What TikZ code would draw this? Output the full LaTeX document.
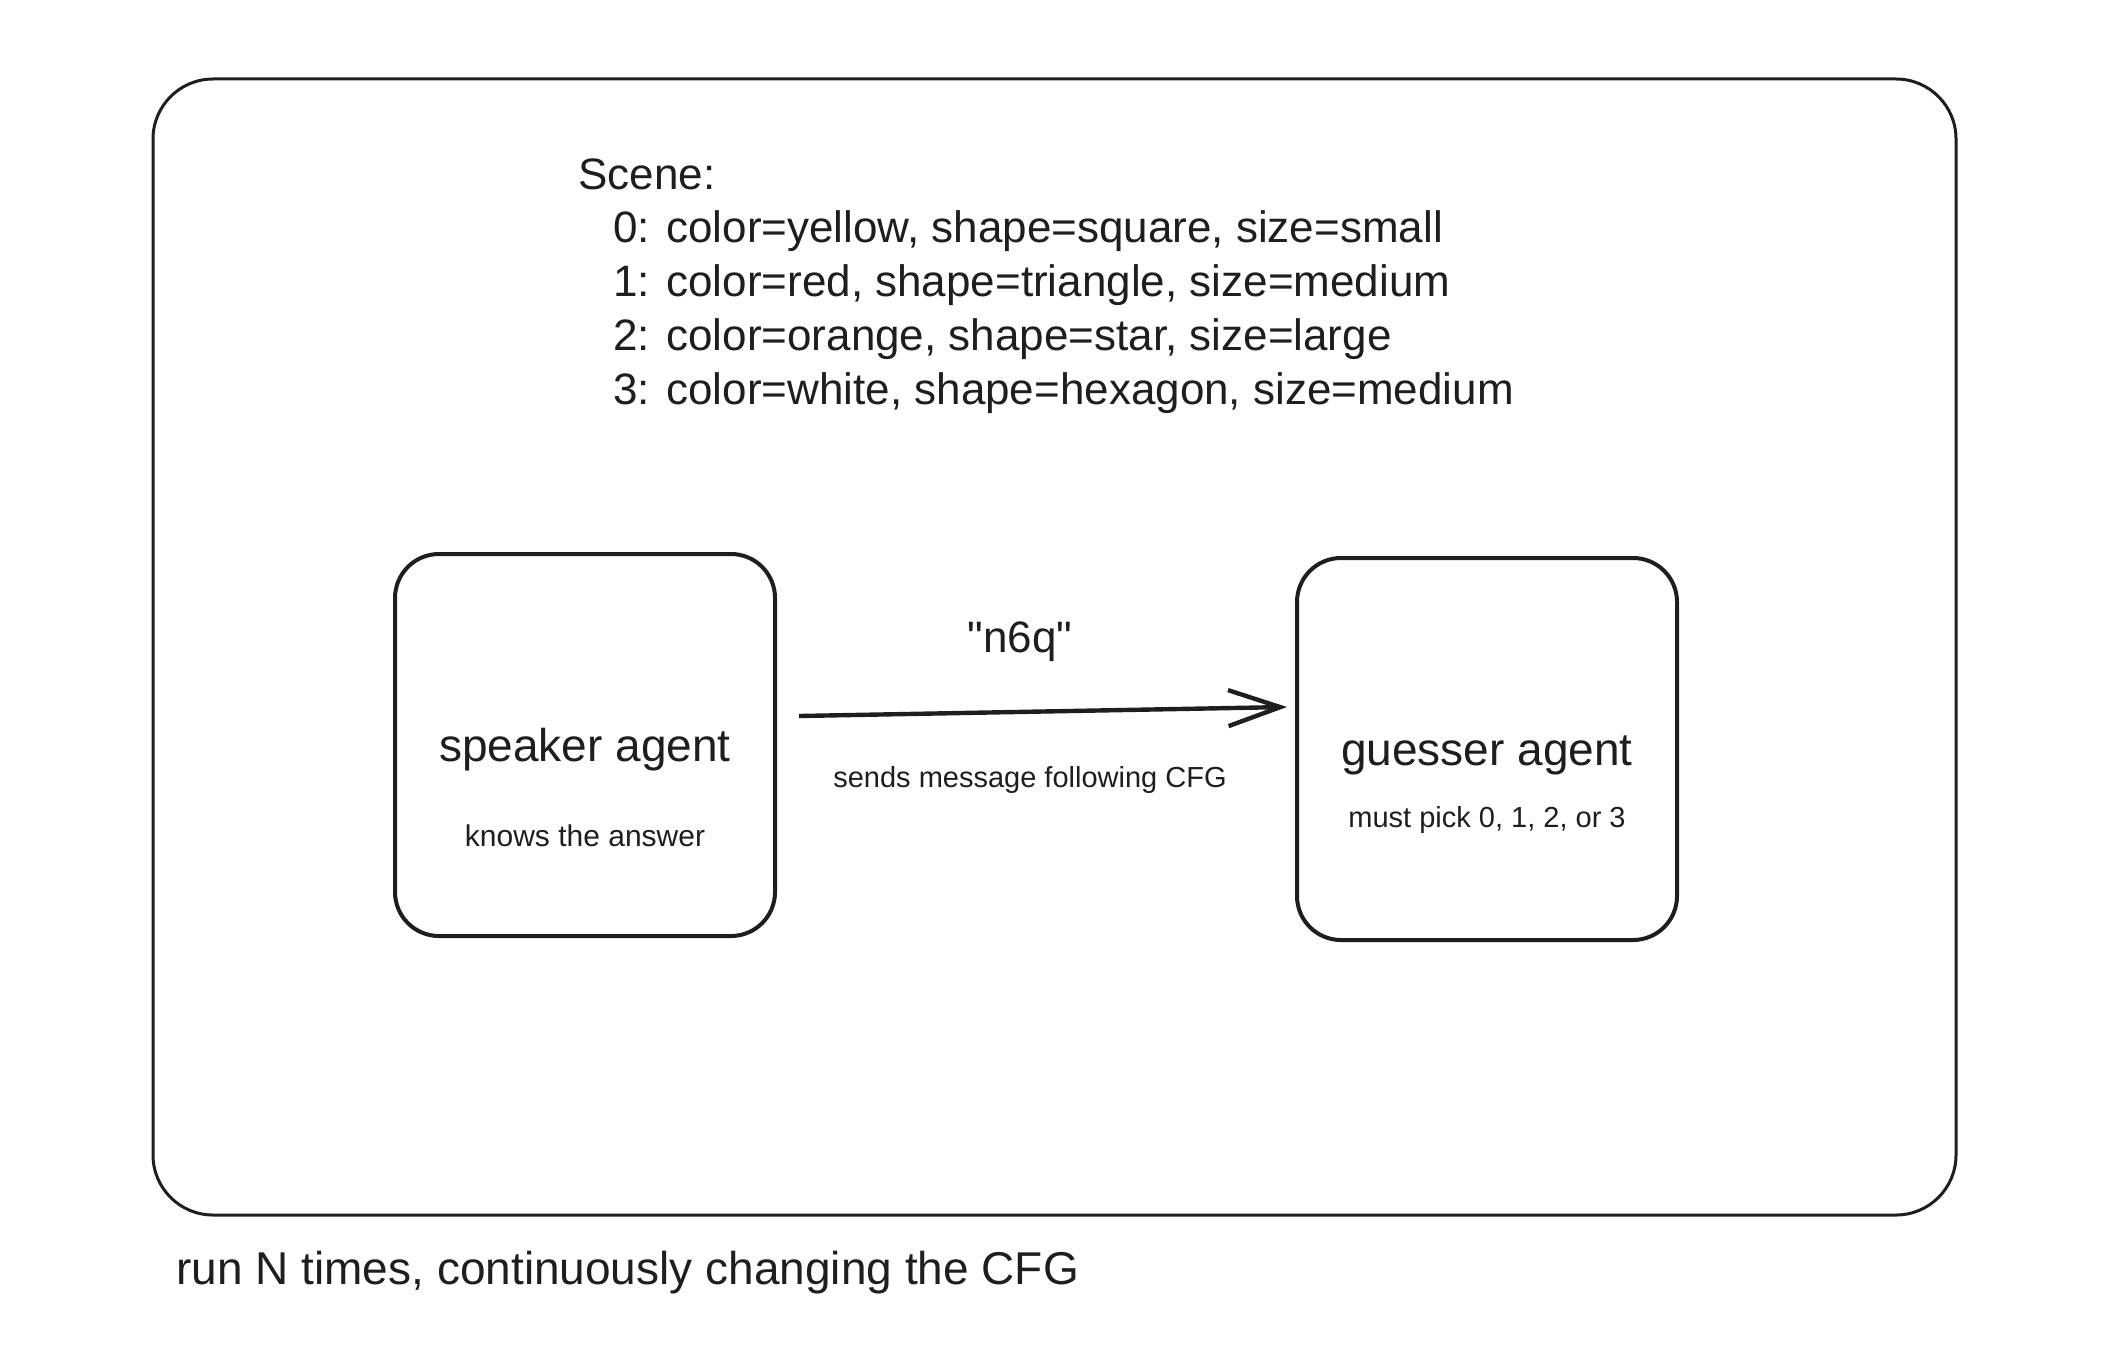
\documentclass[tikz,border=0pt]{standalone}
\usepackage{fontspec}
\setmainfont{Liberation Sans}[Ligatures=TeXOff]
\usetikzlibrary{arrows.meta,positioning}
\definecolor{ink}{HTML}{1E1E1E}

\begin{document}
\begin{tikzpicture}[x=0.5pt,y=-0.5pt]
	\tikzstyle{agent} = [draw=ink,line width=2pt,rounded corners=22pt,minimum width=190pt,minimum height=191pt]
	\tikzstyle{scene} = [anchor=base west,inner sep=0pt,text=ink,font=\fontsize{22}{26}\selectfont]
	\tikzstyle{title} = [inner sep=0pt,text=ink,font=\fontsize{23}{27}\selectfont]
	\tikzstyle{note} = [inner sep=0pt,text=ink,font=\fontsize{14.5}{17}\selectfont]
	\useasboundingbox (0,0) rectangle (2128,1354);
	% outer frame
	\node[draw=ink,line width=1.5pt,rounded corners=30pt,minimum width=901.5pt,minimum height=568pt] (frame) at (1054.5,647) {};
	% scene description
	\node[scene] (scene) at (578,189) {Scene:};
	\foreach \i/\txt in {0/{color=yellow, shape=square, size=small},
		1/{color=red, shape=triangle, size=medium},
		2/{color=orange, shape=star, size=large},
		3/{color=white, shape=hexagon, size=medium}}
		\node[scene] (scene\i) at (613,242+\i*54) {\i: \txt};
	% agents
	\node[agent] (speaker) at (585,745) {};
	\node[title] (speakername) at (585,750) {speaker agent};
	\node[note,font=\fontsize{15}{18}\selectfont] (speakernote) at (585,836) {knows the answer};
	\node[agent] (guesser) at (1487,749) {};
	\node[title] (guessername) at (1487,755) {guesser agent};
	\node[note] (guessernote) at (1487,820) {must pick 0, 1, 2, or 3};
	% message
	\draw[ink,line width=2.2pt,-{Straight Barb[length=26pt,width=18pt,line width=2.2pt]}] ([xshift=11pt,yshift=14.5pt]speaker.east) -- ([xshift=-4pt,yshift=21pt]guesser.west);
	\node[title,font=\fontsize{22}{26}\selectfont] (msg) at (1020,642) {"n6q"};
	\node[note] (msgnote) at (1030,780) {sends message following CFG};
	% caption
	\node[anchor=west,inner sep=0pt,text=ink,font=\fontsize{23}{27}\selectfont] (caption) at (176,1273) {run N times, continuously changing the CFG};
\end{tikzpicture}
\end{document}
